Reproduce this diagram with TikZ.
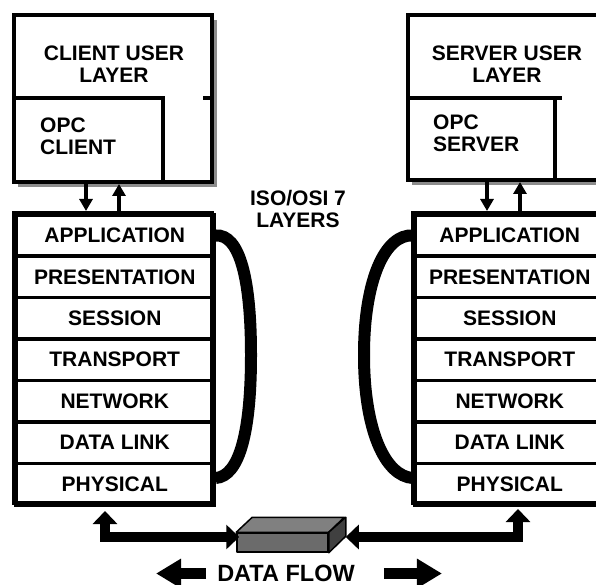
\documentclass[tikz,border=0pt]{standalone}
\usepackage{fontspec}
\setmainfont{Liberation Sans}
\usetikzlibrary{arrows.meta}
\tikzset{
  boxframe/.style={draw=black, line width=4pt, fill=white, inner sep=0pt},
  shadowfill/.style={fill=black!45},
  lbl/.style={font=\fontsize{21}{22.5}\selectfont\bfseries, inner sep=0pt},
  layerrow/.style={draw=black, fill=white, line width=3.5pt, minimum height=41.43pt, inner sep=0pt, anchor=north west, font=\fontsize{21}{22.5}\selectfont\bfseries},
  stackframe/.style={draw=black, line width=4pt, minimum height=290pt, inner sep=0pt},
  thinarrow/.style={line width=3.5pt, -{Triangle[width=13pt,length=12pt]}},
  fatlink/.style={line width=10pt, line join=miter, {Triangle[width=24pt,length=13pt]}-{Triangle[width=24pt,length=13pt]}},
  ring/.style={line width=12pt, line cap=butt},
  bigarrow/.style={line width=11pt, -{Triangle[width=28pt,length=25pt]}},
  devface/.style={draw=black, line width=1.5pt, line join=round},
}
\begin{document}
\begin{tikzpicture}[x=1pt,y=-1pt]
\useasboundingbox (0,0) rectangle (596,585);
\clip (0,0) rectangle (596,585);

% ---------- client user layer ----------
\fill[shadowfill] (18,20) rectangle (217,187);
\node[boxframe, minimum width=198pt, minimum height=167pt] (ltop) at (113,98.5) {};
\draw[line width=4pt] (14,98) -- (165,98) (163,98) -- (163,182);
\draw[line width=4pt] (203,98) -- (212,98);
\node[lbl, align=center] (lcul) at (114,64) {CLIENT USER\\LAYER};
\node[lbl, align=left, anchor=west] (lopc) at (40,136.5) {OPC\\CLIENT};

% ---------- server user layer ----------
\fill[shadowfill] (412,20) rectangle (611,185);
\node[boxframe, minimum width=198pt, minimum height=165pt] (rtop) at (507,97.5) {};
\draw[line width=4pt] (408,98) -- (562,98) (555,98) -- (555,180);
\node[lbl, align=center] (rsul) at (507,64) {SERVER USER\\LAYER};
\node[lbl, align=left, anchor=west] (ropc) at (433,133.5) {OPC\\SERVER};

% ---------- left stack ----------
\fill[shadowfill] (17,217) rectangle (216,507);
\foreach \i/\t in {0/APPLICATION,1/PRESENTATION,2/SESSION,3/TRANSPORT,4/NETWORK,5/DATA LINK,6/PHYSICAL}
  \node[layerrow, minimum width=198pt] (l\i) at (14,{213+41.43*\i}) {\t};
\node[stackframe, minimum width=198pt] (lstack) at (113,358) {};

% ---------- right stack ----------
\fill[shadowfill] (417,217) rectangle (607,507);
\foreach \i/\t in {0/APPLICATION,1/PRESENTATION,2/SESSION,3/TRANSPORT,4/NETWORK,5/DATA LINK,6/PHYSICAL}
  \node[layerrow, minimum width=190pt] (r\i) at (413,{213+41.43*\i}) {\t};
\node[stackframe, minimum width=190pt] (rstack) at (508,358) {};

% ---------- rings ----------
\draw[ring] (l0.east) .. controls (240,233.7) and (251,280) .. (251,355)
            .. controls (251,430) and (240,476.3) .. ([yshift=6pt]l6.east);
\draw[ring] (r0.west) .. controls (385,233.7) and (364,280) .. (364,355)
            .. controls (364,430) and (385,476.3) .. ([yshift=6pt]r6.west);

% ---------- ISO/OSI text ----------
\node[lbl, align=center] (iso) at (298,209) {ISO/OSI 7\\LAYERS};

% ---------- thin arrows ----------
\coordinate (a1) at (86,0);
\coordinate (a2) at (119,0);
\coordinate (a3) at (487,0);
\coordinate (a4) at (520,0);
\draw[thinarrow] (a1 |- ltop.south) -- (a1 |- lstack.north);
\draw[thinarrow] (a2 |- lstack.north) -- (a2 |- ltop.south);
\draw[thinarrow] (a3 |- rtop.south) -- (a3 |- rstack.north);
\draw[thinarrow] (a4 |- rstack.north) -- (a4 |- rtop.south);

% ---------- network device ----------
\node[devface, fill=black!58, minimum width=91pt, minimum height=19pt, inner sep=0pt] (dev) at (282.5,542.5) {};
\filldraw[devface, fill=black!50] (dev.north west) -- ++(16,-15) -- ++(92,0) -- (dev.north east) -- cycle;
\filldraw[devface, fill=black!75] (dev.north east) -- ++(17,-15) -- ++(0,19) -- (dev.south east) -- cycle;

% ---------- fat links ----------
\coordinate (lb) at (105,537);
\coordinate (rb) at (518,537);
\draw[fatlink] ([yshift=-6pt]lb |- lstack.south) -- (lb) -- ([xshift=3pt]lb -| dev.west);
\draw[fatlink] ([yshift=-4pt]rb |- rstack.south) -- (rb) -- ([xshift=17pt]rb -| dev.east);

% ---------- data flow ----------
\node[lbl, font=\fontsize{23.5}{26}\selectfont\bfseries] (df) at (286,573.5) {DATA FLOW};
\draw[bigarrow] ([xshift=-11pt]df.west) -- ++(-50,0);
\draw[bigarrow] ([xshift=29pt]df.east) -- ++(58,0);
\end{tikzpicture}
\end{document}
